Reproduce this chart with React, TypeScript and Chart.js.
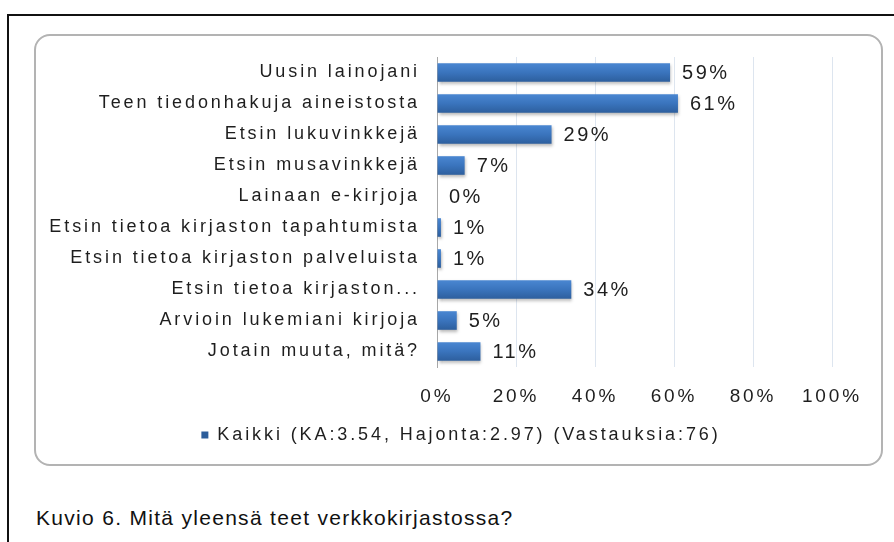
import React, { useEffect, useRef } from "react";
import { Chart, registerables } from "chart.js";

Chart.register(...registerables);

const categories = [
  "Uusin lainojani",
  "Teen tiedonhakuja aineistosta",
  "Etsin lukuvinkkejä",
  "Etsin musavinkkejä",
  "Lainaan e-kirjoja",
  "Etsin tietoa kirjaston tapahtumista",
  "Etsin tietoa kirjaston palveluista",
  "Etsin tietoa kirjaston...",
  "Arvioin lukemiani kirjoja",
  "Jotain muuta, mitä?",
];
const values = [59, 61, 29, 7, 0, 1, 1, 34, 5, 11];
const seriesLabel = "Kaikki (KA:3.54, Hajonta:2.97) (Vastauksia:76)";
const xTicks = [0, 20, 40, 60, 80, 100];
const caption = "Kuvio 6. Mitä yleensä teet verkkokirjastossa?";

const FONT = '"Liberation Sans", Arial, sans-serif';
const TEXT = "#1e1e1e";
const SPACING = "2.9px";

const spacingPlugin = {
  id: "spacing",
  beforeUpdate(chart: any) {
    chart.ctx.letterSpacing = SPACING;
  },
  beforeDraw(chart: any) {
    chart.ctx.letterSpacing = SPACING;
  },
  afterLayout(chart: any) {
    const lg = chart.legend;
    if (lg) {
      lg.left = 54;
      lg.right = 796;
    }
  },
};

const barExtrasPlugin = {
  id: "barExtras",
  beforeDatasetsDraw(chart: any) {
    const ctx = chart.ctx;
    ctx.save();
    ctx.shadowColor = "rgba(0,0,0,0.28)";
    ctx.shadowBlur = 3;
    ctx.shadowOffsetX = 1;
    ctx.shadowOffsetY = 2;
  },
  afterDatasetsDraw(chart: any) {
    const ctx = chart.ctx;
    ctx.restore();
    const meta = chart.getDatasetMeta(0);
    ctx.save();
    ctx.letterSpacing = "2.5px";
    ctx.font = `20px ${FONT}`;
    ctx.fillStyle = TEXT;
    ctx.textAlign = "left";
    ctx.textBaseline = "middle";
    meta.data.forEach((el: any, i: number) => {
      ctx.fillText(values[i] + "%", el.x + 12, el.y + 1);
    });
    ctx.restore();
  },
};

export default function App() {
  const ref = useRef<HTMLCanvasElement | null>(null);

  useEffect(() => {
    if (!ref.current) return;
    const chart: any = new Chart(ref.current, {
      type: "bar",
      data: {
        labels: categories,
        datasets: [
          {
            label: seriesLabel,
            data: values,
            backgroundColor: (c: any) => {
              const ch = c.chart;
              const ys = ch.scales && ch.scales.y;
              if (!ys || c.type !== "data") return "#3a74bd";
              const y = ys.getPixelForValue(c.dataIndex);
              if (!isFinite(y)) return "#3a74bd";
              const g = ch.ctx.createLinearGradient(0, y - 10, 0, y + 10);
              g.addColorStop(0, "#4b88d3");
              g.addColorStop(0.5, "#3a74bd");
              g.addColorStop(1, "#2c5d9b");
              return g;
            },
            borderWidth: 0,
            barPercentage: 0.6,
            categoryPercentage: 1,
          },
        ],
      },
      options: {
        indexAxis: "y",
        animation: false,
        responsive: false,
        maintainAspectRatio: false,
        layout: { padding: { left: 8, right: 54, top: 21, bottom: 11 } },
        scales: {
          x: {
            min: 0,
            max: 100,
            afterBuildTicks: (s: any) => {
              s.ticks = xTicks.map((v) => ({ value: v }));
            },
            afterFit: (s: any) => {
              s.height = 49;
            },
            ticks: {
              callback: (v: any) => v + "%",
              color: TEXT,
              font: { family: FONT, size: 19 },
              padding: 18,
              maxRotation: 0,
            },
            grid: { color: "#dde5ef", lineWidth: 1, drawTicks: false },
            border: { display: false },
          },
          y: {
            afterFit: (s: any) => {
              s.width = 393;
              s.paddingTop = 0;
              s.paddingBottom = 0;
            },
            ticks: {
              color: TEXT,
              font: { family: FONT, size: 18 },
              padding: 17,
              autoSkip: false,
            },
            grid: { display: false, drawTicks: false },
            border: { display: true, color: "#a8a8a8", width: 1 },
          },
        },
        plugins: {
          legend: {
            position: "bottom",
            labels: {
              boxWidth: 7,
              boxHeight: 7,
              color: TEXT,
              font: { family: FONT, size: 18 },
              padding: 10,
            },
          },
          tooltip: { enabled: false },
        },
      },
      plugins: [spacingPlugin, barExtrasPlugin],
    } as any);
    return () => chart.destroy();
  }, []);

  return (
    <div
      style={{
        position: "fixed",
        left: 0,
        top: 0,
        width: 894,
        height: 542,
        overflow: "hidden",
        background: "#ffffff",
      }}
    >
      <div
        style={{
          position: "absolute",
          left: 7,
          top: 14,
          width: 1000,
          height: 700,
          border: "2px solid #111",
          boxSizing: "border-box",
        }}
      />
      <div
        style={{
          position: "absolute",
          left: 34,
          top: 34,
          width: 849,
          height: 432,
          border: "2px solid #b3b3b3",
          borderRadius: 16,
          boxSizing: "border-box",
        }}
      />
      <canvas
        ref={ref}
        width={850}
        height={429}
        style={{ position: "absolute", left: 36, top: 36, width: 850, height: 429 }}
      />
      <div
        style={{
          position: "absolute",
          left: 36,
          top: 505,
          fontFamily: FONT,
          fontSize: 21,
          letterSpacing: "1.3px",
          color: "#111",
          lineHeight: "26px",
          whiteSpace: "nowrap",
        }}
      >
        {caption}
      </div>
    </div>
  );
}
